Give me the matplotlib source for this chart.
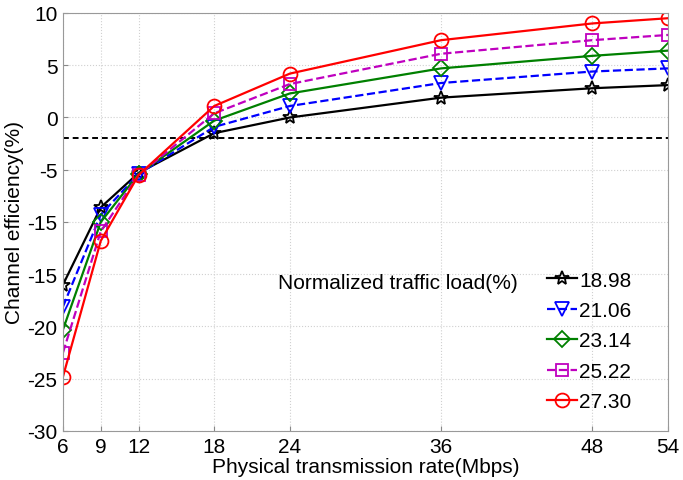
import matplotlib
matplotlib.use("Agg")
import matplotlib.pyplot as plt

plt.rcParams['font.family'] = ['Liberation Sans', 'DejaVu Sans']

rates = [6, 9, 12, 18, 24, 36, 48, 54]
x_tick_labels = ['6', '9', '12', '18', '24', '36', '48', '54']
y_ticks = [-30, -25, -20, -15, -10, -5, 0, 5, 10]
y_tick_labels = ['-30', '-25', '-20', '-15', '-15', '-5', '0', '5', '10']

loads = ['18.98', '21.06', '23.14', '25.22', '27.30']
eff_1898 = [-16.0, -8.6, -5.3, -1.5, 0.0, 1.9, 2.8, 3.1]
eff_2106 = [-18.1, -9.3, -5.4, -0.9, 1.1, 3.3, 4.4, 4.7]
eff_2314 = [-20.3, -10.0, -5.4, -0.3, 2.3, 4.7, 5.9, 6.4]
eff_2522 = [-22.5, -10.9, -5.5, 0.4, 3.2, 6.1, 7.4, 7.9]
eff_2730 = [-24.8, -11.8, -5.5, 1.1, 4.2, 7.4, 9.0, 9.5]
threshold = -2.0

series = [eff_1898, eff_2106, eff_2314, eff_2522, eff_2730]
colors = ['black', '#0000ff', '#008000', '#bf00bf', '#ff0000']
markers = ['*', 'v', 'D', 's', 'o']
msizes = [10, 10, 8, 8, 10]
styles = ['-', '--', '-', '--', '-']

FS = 15

fig = plt.figure(figsize=(6.83, 4.81), dpi=100)
ax = fig.add_axes([0.0922, 0.1019, 0.8858, 0.869])

ax.plot([rates[0], rates[-1]], [threshold, threshold], color='black',
        linestyle='--', linewidth=1.4, dashes=(3, 2))

handles = []
for ys, c, m, ms, ls, lab in zip(series, colors, markers, msizes, styles, loads):
    h, = ax.plot(rates, ys, color=c, marker=m, markersize=ms, linestyle=ls,
                 linewidth=1.6, markerfacecolor='none', markeredgewidth=1.3,
                 label=lab)
    handles.append(h)

ax.set_xlim(6, 54)
ax.set_ylim(-30, 10)
ax.set_xticks(rates)
ax.set_xticklabels(x_tick_labels)
ax.set_yticks(y_ticks)
ax.set_yticklabels(y_tick_labels)
ax.tick_params(direction='in', labelsize=FS, color='#888888')
ax.tick_params(axis='y', pad=4)
ax.tick_params(axis='x', pad=4)
ax.grid(True, color='#d0d0d0', linestyle=':', linewidth=0.8)
for s in ax.spines.values():
    s.set_color('#999999')

ax.set_xlabel('Physical transmission rate(Mbps)', fontsize=FS)
ax.set_ylabel('Channel efficiency(%)', fontsize=FS)
ax.xaxis.set_label_coords(0.5, -0.062)
ax.yaxis.set_label_coords(-0.064, 0.5)

leg = ax.legend(handles=handles, loc='lower right', frameon=False,
                fontsize=FS, handlelength=1.45, handletextpad=0.1,
                labelspacing=0.55, borderpad=0, borderaxespad=0,
                bbox_to_anchor=(0.94, 0.047))
ax.text(0.355, 0.356, 'Normalized traffic load(%)', transform=ax.transAxes,
        fontsize=FS, ha='left', va='center')

fig.savefig('out.png', dpi=100)
